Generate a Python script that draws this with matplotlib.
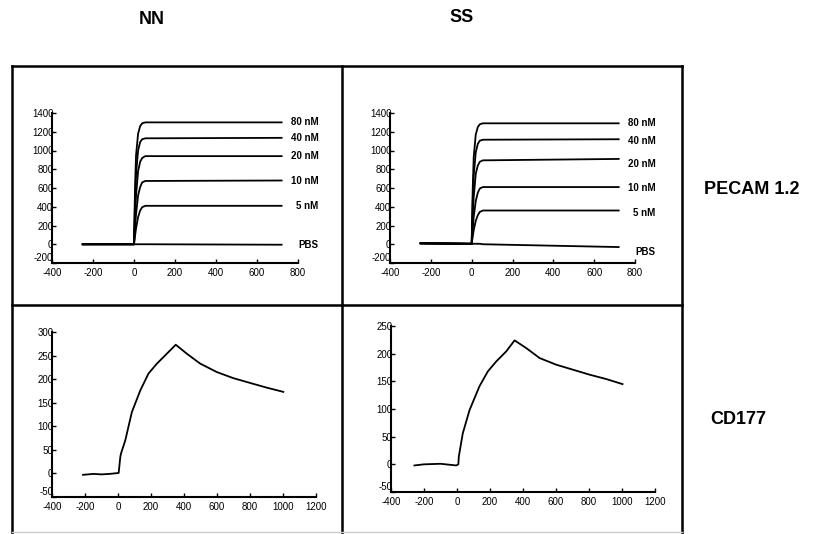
import matplotlib
matplotlib.use("Agg")
import matplotlib.pyplot as plt
from matplotlib.lines import Line2D
import numpy as np

plt.rcParams['font.family'] = ['Liberation Sans', 'DejaVu Sans']
plt.rcParams['axes.unicode_minus'] = False

# ---- data ----
col_titles = ['NN', 'SS']
row_titles = ['PECAM 1.2', 'CD177']
conc_labels = ['80 nM', '40 nM', '20 nM', '10 nM', '5 nM', 'PBS']

# PECAM 1.2 sensorgrams (time s, response RU)
pecam_t = [-250, -5, 0, 5, 10, 20, 30, 40, 55, 720]
pecam_nn = {
    '80 nM': [0, 0, 0, 600, 950, 1180, 1260, 1290, 1300, 1300],
    '40 nM': [0, 0, 0, 450, 750, 1000, 1090, 1120, 1130, 1135],
    '20 nM': [0, 0, 0, 300, 520, 780, 880, 920, 940, 940],
    '10 nM': [0, 0, 0, 180, 320, 520, 610, 660, 675, 680],
    '5 nM':  [0, 0, 0, 90, 170, 290, 360, 395, 410, 410],
    'PBS':   [0, 0, 0, 0, 0, 0, 0, 0, 0, -5],
}
pecam_ss = {
    '80 nM': [10, 5, 5, 580, 930, 1170, 1250, 1280, 1290, 1290],
    '40 nM': [10, 5, 5, 440, 730, 980, 1070, 1105, 1115, 1120],
    '20 nM': [10, 5, 5, 290, 500, 750, 840, 880, 895, 910],
    '10 nM': [10, 5, 5, 160, 290, 460, 550, 595, 610, 610],
    '5 nM':  [10, 5, 5, 80, 150, 250, 310, 345, 360, 360],
    'PBS':   [10, 5, 5, 5, 5, 5, 5, 5, 0, -30],
}
label_y_nn = [1300, 1130, 940, 680, 410, -10]
label_y_ss = [1290, 1100, 860, 600, 330, -80]

# CD177 sensorgrams
cd_nn_t = [-212, -150, -100, -50, 4, 14, 18, 44, 84, 135, 185, 236, 296, 350,
           417, 498, 599, 700, 800, 901, 1002]
cd_nn_y = [-3, -1, -2, -1, 1, 35, 42, 70, 130, 176, 212, 233, 254, 273,
           254, 233, 215, 202, 192, 182, 173]
cd_ss_t = [-258, -200, -100, -5, 8, 11, 35, 76, 136, 187, 238, 298, 349,
           420, 501, 602, 703, 804, 906, 1003]
cd_ss_y = [-2, 0, 1, -2, 0, 14, 56, 98, 141, 168, 186, 204, 224,
           210, 192, 180, 171, 162, 154, 145]

W, H = 830, 534
fig = plt.figure(figsize=(W / 100, H / 100), dpi=100)


def add_ax(x0, y0, x1, y1):
    return fig.add_axes([x0 / W, 1 - y1 / H, (x1 - x0) / W, (y1 - y0) / H])


def style(ax):
    for s in ['top', 'right']:
        ax.spines[s].set_visible(False)
    for s in ['left', 'bottom']:
        ax.spines[s].set_linewidth(1.5)
    ax.tick_params(direction='in', length=3, width=1, labelsize=7)
    ax.tick_params(axis='x', pad=3.5)
    ax.tick_params(axis='y', pad=-1)
    # lowest y label sits a little above the corner, as in the figure
    ax.get_yticklabels()[0].set_va('bottom')


# top row
for ax_box, data, ly in [((52, 113, 298, 263), pecam_nn, label_y_nn),
                         ((390, 113, 635, 263), pecam_ss, label_y_ss)]:
    ax = add_ax(*ax_box)
    for name, yl in zip(conc_labels, ly):
        ax.plot(pecam_t, data[name], color='black', lw=1.3)
        ax.text(900, yl, name, ha='right', va='center', fontsize=7,
                fontweight='bold', clip_on=False)
    ax.set_xlim(-400, 800)
    ax.set_ylim(-200, 1400)
    ax.set_xticks(np.arange(-400, 801, 200))
    ax.set_yticks(np.arange(-200, 1401, 200))
    style(ax)

# bottom row
ax = add_ax(52, 332, 316, 497)
ax.plot(cd_nn_t, cd_nn_y, color='black', lw=1.3)
ax.set_xlim(-400, 1200)
ax.set_ylim(-50, 300)
ax.set_xticks(np.arange(-400, 1201, 200))
ax.set_yticks(np.arange(-50, 301, 50))
style(ax)

ax = add_ax(391, 326, 655, 492)
ax.plot(cd_ss_t, cd_ss_y, color='black', lw=1.3)
ax.set_xlim(-400, 1200)
ax.set_ylim(-50, 250)
ax.set_xticks(np.arange(-400, 1201, 200))
ax.set_yticks(np.arange(-50, 251, 50))
style(ax)


# panel frame
def fline(xs, ys, color='black', lw=1.8):
    fig.add_artist(Line2D([x / W for x in xs], [1 - y / H for y in ys],
                          color=color, lw=lw, transform=fig.transFigure))


fline([12, 682], [66, 66])
fline([12, 682], [305, 305])
fline([12, 12], [66, 534])
fline([342, 342], [66, 534])
fline([682, 682], [66, 534])
fline([12, 682], [532, 532], color='#cccccc', lw=1)

# titles
fig.text(152 / W, 1 - 20 / H, col_titles[0], ha='center', va='center',
         fontsize=13, fontweight='bold')
fig.text(462 / W, 1 - 18 / H, col_titles[1], ha='center', va='center',
         fontsize=13, fontweight='bold')
fig.text(752 / W, 1 - 190 / H, row_titles[0], ha='center', va='center',
         fontsize=13, fontweight='bold')
fig.text(738 / W, 1 - 420 / H, row_titles[1], ha='center', va='center',
         fontsize=13, fontweight='bold')

fig.savefig('out.png', dpi=100)
